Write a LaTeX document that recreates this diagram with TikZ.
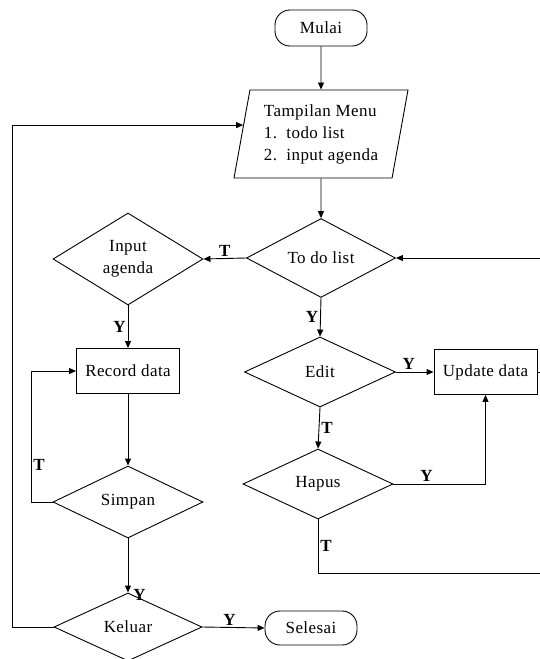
\documentclass[tikz,border=0pt]{standalone}
\usepackage{fontspec}
\setmainfont{Liberation Serif}[LetterSpace=2.5]
\usetikzlibrary{shapes.geometric,arrows.meta,calc}
\begin{document}
\begin{tikzpicture}[x=1pt,y=-1pt,
  font=\fontsize{17}{22}\selectfont,
  line/.style={draw, line width=0.9pt},
  arr/.style={line, -{Triangle[length=7pt,width=6pt]}},
  dec/.style={diamond, draw, line width=0.9pt, inner sep=0pt, align=center},
  proc/.style={rectangle, draw, line width=0.9pt, minimum width=103pt, minimum height=45pt, inner sep=0pt},
  term/.style={rectangle, rounded corners=15pt, draw, line width=0.9pt, minimum width=92pt, minimum height=36pt, inner sep=0pt},
  lab/.style={font=\bfseries\fontsize{17}{18}\selectfont, inner sep=2pt}]
\clip (0,0) rectangle (540,659);
\node[term] (mulai) at (321,28) {Mulai};
\node[trapezium, draw, line width=0.9pt, trapezium left angle=75, trapezium right angle=105,
  trapezium stretches body, minimum width=174pt, minimum height=88pt, inner sep=0pt, align=left]
  (menu) at (321,134) {Tampilan Menu\\1.\ \ todo list\\2.\ \ input agenda};
\node[dec, minimum width=149pt, minimum height=70pt] (todo) at (321,258) {To do list};
\node[dec, minimum width=150pt, minimum height=92pt] (input) at (128,259) {Input\\agenda};
\node[proc] (record) at (128,371) {Record data};
\node[dec, minimum width=150pt, minimum height=72pt] (simpan) at (128,502) {Simpan};
\node[dec, minimum width=148pt, minimum height=68pt] (keluar) at (128,627) {Keluar};
\node[term, minimum height=34pt] (selesai) at (311,628) {Selesai};
\node[dec, minimum width=151pt, minimum height=70pt] (edit) at (320,372) {Edit};
\node[proc] (update) at (485.5,372) {Update data};
\node[dec, minimum width=150pt, minimum height=70pt] (hapus) at (318,484) {Hapus};
\coordinate (entry) at ($(menu.bottom left corner)!0.6!(menu.top left corner)$);
\coordinate (rin) at (541,258);
\coordinate (tout) at (541,573);
\coordinate (uout) at (541,372);
\coordinate (lx) at (12,0);
\coordinate (sx) at (31,0);
\draw[arr] (mulai.south) -- (menu.north);
\draw[arr] (menu.south) -- (todo.north);
\draw[arr] (todo.west) -- node[lab, above] {T} (input.east);
\draw[arr] (input.south) -- node[lab, left] {Y} (record.north);
\draw[arr] (record.south) -- (simpan.north);
\draw[arr] (simpan.west) -- (sx |- simpan.west) |- node[lab, pos=0.14, right] {T} (record.west);
\draw[arr] (simpan.south) -- (keluar.north) node[lab, right, xshift=3pt, yshift=-2pt] {Y};
\draw[arr] (keluar.west) -- (lx |- keluar.west) |- (entry);
\draw[arr] (keluar.east) -- node[lab, above, xshift=-4pt] {Y} (selesai.west);
\draw[arr] (todo.south) -- node[lab, left] {Y} (edit.north);
\draw[arr] (edit.east) -- node[lab, above, xshift=-6pt] {Y} (update.west);
\draw[arr] (hapus.east) -| node[lab, pos=0.18, above] {Y} (update.south);
\draw[arr] (edit.south) -- node[lab, right] {T} (hapus.north);
\draw[line] (hapus.south) |- node[lab, pos=0.25, right] {T} (tout);
\draw[arr] (rin) -- (todo.east);
\draw[line] (update.east) -- (uout);
\end{tikzpicture}
\end{document}
